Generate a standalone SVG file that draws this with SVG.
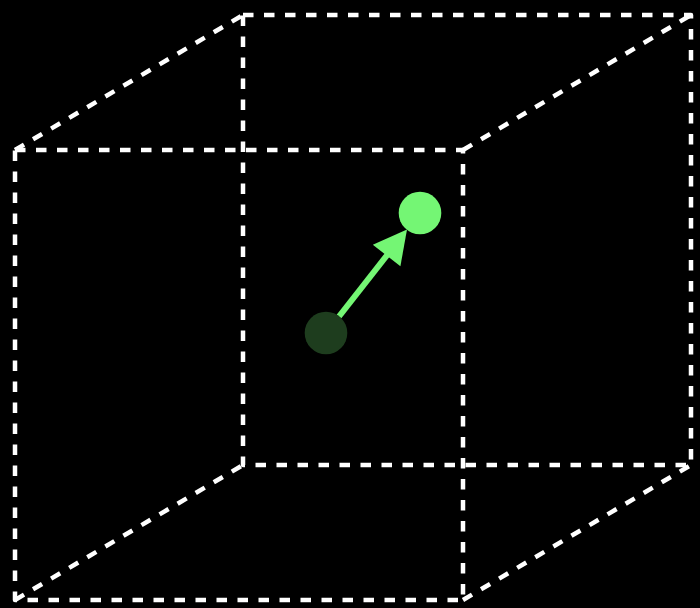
<svg xmlns="http://www.w3.org/2000/svg" width="700" height="608" viewBox="0 0 700 608">
<style>
.edge{fill:none;stroke:#fff;stroke-width:4.5;stroke-dasharray:10.5 10.5;stroke-linejoin:round}
.arrow{stroke:#74f674;stroke-width:6;fill:none}
</style>
<rect width="700" height="608" fill="#000"/>
<g id="cube">
<path class="edge" d="M15,150 L463,150 L463,600 L15,600 Z"/>
<path class="edge" d="M243,15 L691,15 L691,465 L243,465 Z"/>
<line class="edge" x1="15" y1="150" x2="243" y2="15"/>
<line class="edge" x1="463" y1="150" x2="691" y2="15"/>
<line class="edge" x1="463" y1="600" x2="691" y2="465"/>
<line class="edge" x1="15" y1="600" x2="243" y2="465"/>
</g>
<g id="connectors">
<line class="arrow" x1="339" y1="316.5" x2="388" y2="254"/>
<polygon points="407,229.5 372.8,244.7 400.4,266.3" fill="#74f674"/>
</g>
<g id="node-start"><circle cx="326" cy="333" r="21.3" fill="#1e3d1e"/></g>
<g id="node-end"><circle cx="420" cy="213" r="21.3" fill="#74f674"/></g>
</svg>
